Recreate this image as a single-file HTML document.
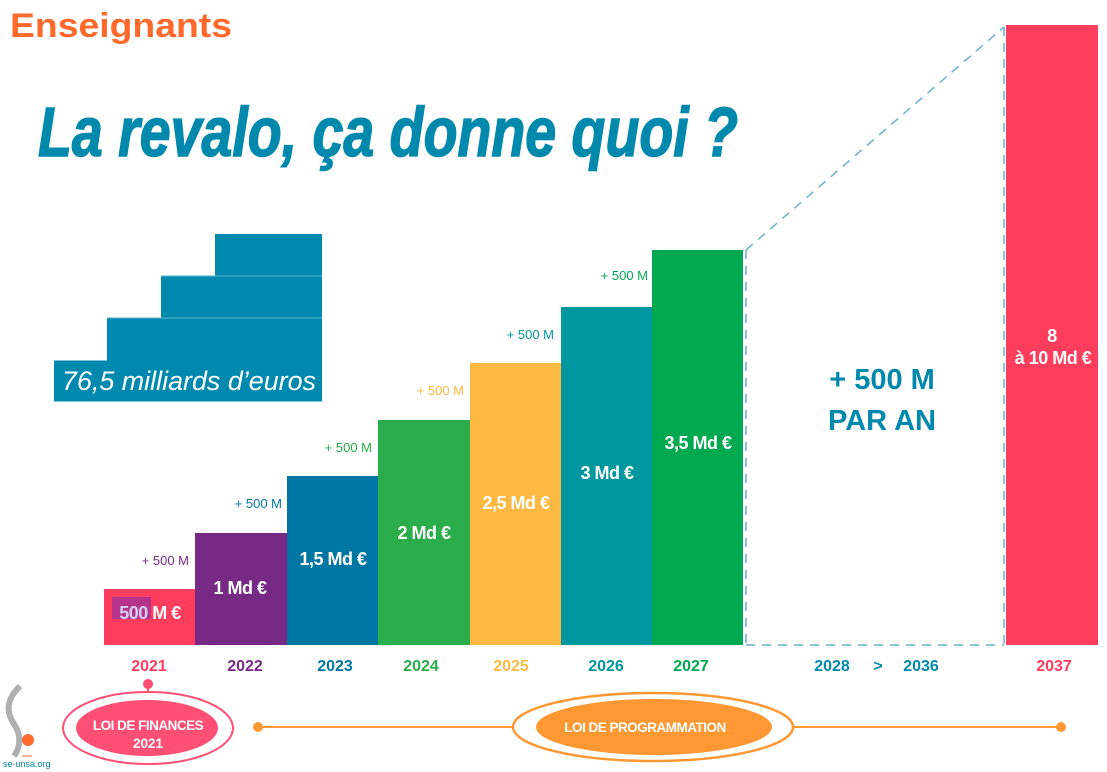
<!DOCTYPE html>
<html><head><meta charset="utf-8"><style>
html,body{margin:0;padding:0;background:#fff}
svg{display:block}
text{font-family:"Liberation Sans",sans-serif}
</style></head><body>
<svg width="1107" height="772" viewBox="0 0 1107 772" xmlns="http://www.w3.org/2000/svg">
<text x="10" y="37" font-size="34" font-weight="bold" fill="#ff6a2c" textLength="222" lengthAdjust="spacingAndGlyphs">Enseignants</text>
<text x="38" y="156" font-size="70" font-weight="bold" font-style="italic" fill="#0088ad" textLength="700" lengthAdjust="spacingAndGlyphs" stroke="#0088ad" stroke-width="1.5">La revalo, ça donne quoi ?</text>
<g fill="#0089ae">
<rect x="215" y="234" width="107" height="42"/>
<rect x="161" y="276.5" width="161" height="41.5"/>
<rect x="107" y="318.5" width="215" height="42"/>
<rect x="54" y="360.5" width="268" height="41"/>
</g>
<line x1="161" y1="276" x2="322" y2="276" stroke="#5ab3cf" stroke-width="1"/>
<line x1="107" y1="318" x2="322" y2="318" stroke="#5ab3cf" stroke-width="1"/>
<text x="62" y="390" font-size="27" font-style="italic" fill="#fff" textLength="254" lengthAdjust="spacingAndGlyphs">76,5 milliards d’euros</text>
<rect x="104" y="589" width="91" height="56" fill="#ff3d5c"/>
<rect x="195" y="533" width="92" height="112" fill="#762a84"/>
<rect x="287" y="476" width="91" height="169" fill="#0077a3"/>
<rect x="378" y="420" width="92" height="225" fill="#2aad4a"/>
<rect x="470" y="363" width="91" height="282" fill="#fdb942"/>
<rect x="561" y="307" width="91" height="338" fill="#00989e"/>
<rect x="652" y="250" width="91" height="395" fill="#00a84f"/>
<rect x="1006" y="25" width="92" height="620" fill="#ff3d5c"/>
<g stroke="#6ab2c9" stroke-width="1.5" stroke-dasharray="9,7" fill="none">
<line x1="746" y1="250" x2="1004" y2="27"/>
<line x1="746" y1="250" x2="746" y2="645"/>
<line x1="1004" y1="27" x2="1004" y2="645"/>
<line x1="746" y1="645" x2="1004" y2="645"/>
</g>
<rect x="112" y="597" width="39" height="22" fill="#b5338a"/>
<g font-weight="bold" fill="#fff" font-size="18" text-anchor="middle" letter-spacing="-0.5">
<text x="150" y="619"><tspan fill="#d4cff5">500</tspan> M €</text>
<text x="240" y="594">1 Md €</text>
<text x="333" y="565">1,5 Md €</text>
<text x="424" y="539">2 Md €</text>
<text x="516" y="509">2,5 Md €</text>
<text x="607" y="479">3 Md €</text>
<text x="698" y="449">3,5 Md €</text>
<text x="1052" y="342">8</text>
<text x="1053" y="364">à 10 Md €</text>
</g>
<g font-size="13" text-anchor="end">
<text x="189" y="565" fill="#762a84">+ 500 M</text>
<text x="282" y="508" fill="#0077a3">+ 500 M</text>
<text x="372" y="452" fill="#2aad4a">+ 500 M</text>
<text x="464" y="395" fill="#fdb942">+ 500 M</text>
<text x="554" y="339" fill="#00989e">+ 500 M</text>
<text x="648" y="280" fill="#00a84f">+ 500 M</text>
</g>
<g font-weight="bold" fill="#0088ad" font-size="29" text-anchor="middle">
<text x="882" y="389">+ 500 M</text>
<text x="882" y="430">PAR AN</text>
</g>
<g font-weight="bold" font-size="16" text-anchor="middle">
<text x="149" y="671" fill="#ff3d5c">2021</text>
<text x="245" y="671" fill="#762a84">2022</text>
<text x="335" y="671" fill="#0077a3">2023</text>
<text x="421" y="671" fill="#2aad4a">2024</text>
<text x="511" y="671" fill="#fdb942">2025</text>
<text x="606" y="671" fill="#00989e">2026</text>
<text x="691" y="671" fill="#00a84f">2027</text>
<text x="832" y="671" fill="#0088ad">2028</text>
<text x="878" y="671" fill="#0088ad">&gt;</text>
<text x="921" y="671" fill="#0088ad">2036</text>
<text x="1054" y="671" fill="#ff3d5c">2037</text>
</g>
<line x1="258" y1="727" x2="1061" y2="727" stroke="#ff9832" stroke-width="2"/>
<circle cx="258" cy="727" r="5" fill="#ff9832"/>
<circle cx="1061" cy="727" r="5" fill="#ff9832"/>
<line x1="148" y1="684" x2="148" y2="702" stroke="#ff4f74" stroke-width="2"/>
<circle cx="148" cy="684" r="5" fill="#ff4f74"/>
<ellipse cx="148" cy="728" rx="85" ry="36" fill="#fff" stroke="#ff4f74" stroke-width="2"/>
<ellipse cx="147" cy="728" rx="71" ry="28" fill="#ff4f74"/>
<text x="148" y="730" font-size="13.5" font-weight="bold" fill="#fff" text-anchor="middle" letter-spacing="-0.5">LOI DE FINANCES</text>
<text x="148" y="748" font-size="13.5" font-weight="bold" fill="#fff" text-anchor="middle">2021</text>
<ellipse cx="653" cy="727" rx="140" ry="34" fill="#fff" stroke="#ff9832" stroke-width="2.5"/>
<ellipse cx="654" cy="727" rx="118" ry="28" fill="#ff9832"/>
<text x="645" y="732" font-size="13.5" font-weight="bold" fill="#fff" text-anchor="middle" letter-spacing="-0.5">LOI DE PROGRAMMATION</text>
<path d="M20 686 C6 700 6 712 14 724 C22 736 20 748 14 756" stroke="#b0b0b0" stroke-width="6" fill="none"/>
<circle cx="28" cy="740" r="6" fill="#ff6a2c"/>
<line x1="22" y1="756" x2="32" y2="756" stroke="#ff6a2c" stroke-width="1"/>
<text x="3" y="767" font-size="9" fill="#0088ad">se-unsa.org</text>
</svg>
</body></html>
